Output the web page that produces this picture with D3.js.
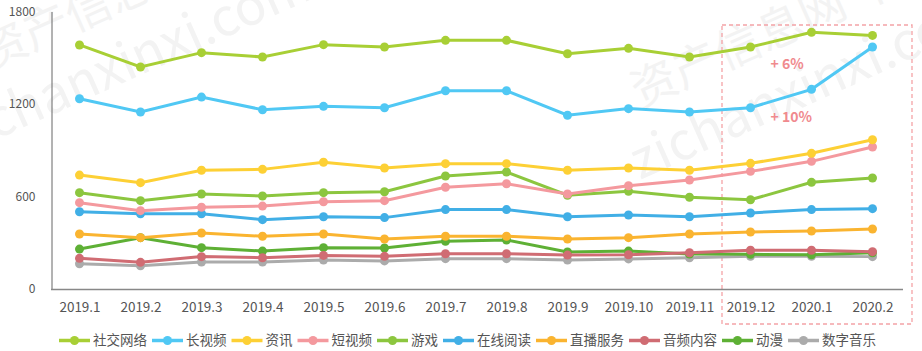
<!DOCTYPE html>
<html>
<head>
<meta charset="utf-8">
<script src="https://cdn.jsdelivr.net/npm/d3@7"></script>
<style>
  body { margin: 0; background: #fff; }
  svg { display: block; }
</style>
</head>
<body>
<div id="chart"></div>
<script>
// months on the x axis
var months = ["2019.1","2019.2","2019.3","2019.4","2019.5","2019.6","2019.7",
              "2019.8","2019.9","2019.10","2019.11","2019.12","2020.1","2020.2"];
var yTicks = [0, 600, 1200, 1800];

// series values
var sheJiao   = [1583,1440,1533,1505,1585,1570,1613,1613,1526,1561,1505,1570,1665,1645];
var changShiPin = [1234,1148,1245,1163,1185,1176,1286,1286,1127,1170,1148,1176,1295,1570];
var ziXun     = [739,690,770,776,822,785,813,813,770,785,770,815,880,968];
var duanShiPin = [560,508,530,538,566,573,660,683,616,670,707,763,828,921];
var youXi     = [625,573,616,603,625,631,733,759,608,634,595,579,692,720];
var yueDu     = [501,488,488,450,469,463,515,515,469,480,469,493,515,521];
var zhiBo     = [357,333,363,342,357,324,342,342,324,333,357,370,376,389];
var yinPin    = [199,173,210,203,218,212,229,229,220,222,235,251,251,242];
var dongMan   = [259,333,268,246,268,266,309,318,240,246,227,225,222,235];
var shuZiYinYue = [164,151,175,175,188,182,197,197,188,195,203,212,212,210];

var seriesNames = ["社交网络","长视频","资讯","短视频","游戏","在线阅读","直播服务","音频内容","动漫","数字音乐"];
var seriesValues = [sheJiao, changShiPin, ziXun, duanShiPin, youXi, yueDu, zhiBo, yinPin, dongMan, shuZiYinYue];
var colors = ["#a8cf35","#50c8f4","#fdd035","#f4999e","#8cc63f","#41afe6","#fab430","#d06c73","#5eb035","#ababab"];

var width = 922, height = 351;
var font = "'Noto Sans CJK SC', 'Microsoft YaHei', sans-serif";

var svg = d3.select("#chart").append("svg")
    .attr("width", width)
    .attr("height", height)
    .style("font-family", font);

// faint watermark
var wm = svg.append("g").style("fill", "#f3f3f3").style("font-size", "46px");
wm.append("text").attr("transform", "translate(-10,70) rotate(-24)").text("资产信息网 千");
wm.append("text").attr("transform", "translate(-5,140) rotate(-24)").style("font-size", "52px").text("chanxinxi.com");
wm.append("text").attr("transform", "translate(640,108) rotate(-24)").text("资产信息网 千");
wm.append("text").attr("transform", "translate(640,180) rotate(-24)").style("font-size", "52px").text("zichanxinxi.com");

var xScale = d3.scalePoint()
    .domain(months)
    .range([49, 903])
    .padding(0.5);

var yScale = d3.scaleLinear()
    .domain([0, 1800])
    .range([289, 11.5]);

// highlight box
svg.append("rect")
    .attr("x", 722).attr("y", 25)
    .attr("width", 190).attr("height", 299)
    .style("fill", "none")
    .style("stroke", "#f4a3a6")
    .style("stroke-width", 1.3)
    .style("stroke-dasharray", "4,3");

// axes
var yAxis = d3.axisLeft(yScale).tickValues(yTicks).tickFormat(d3.format("d")).tickSize(0).tickPadding(16);
var gy = svg.append("g").attr("class", "y axis")
    .attr("transform", "translate(51.5,0)")
    .call(yAxis);
gy.select(".domain").style("stroke", "#666");
gy.selectAll("text").style("fill", "#555").style("font-size", "12px").style("font-family", font);

var xAxis = d3.axisBottom(xScale).tickSize(0).tickPadding(13);
var gx = svg.append("g").attr("class", "x axis")
    .attr("transform", "translate(0," + yScale(0) + ")")
    .call(xAxis);
gx.select(".domain").remove();
gx.append("line")
    .attr("x1", 51).attr("x2", 903)
    .attr("y1", 0.5).attr("y2", 0.5)
    .style("stroke", "#888").style("stroke-width", 1.5);
gx.selectAll("text").style("fill", "#555").style("font-size", "13.5px").style("font-family", font);

var line = d3.line()
    .x(function(d, i) { return xScale(months[i]); })
    .y(function(d) { return yScale(d); });

// draw from bottom series up so the top ones sit on top
for (var s = seriesValues.length - 1; s >= 0; s--) {
  var g = svg.append("g").attr("class", "series");
  g.append("path")
    .datum(seriesValues[s])
    .attr("d", line)
    .style("fill", "none")
    .style("stroke", colors[s])
    .style("stroke-width", 3);
  g.selectAll("circle")
    .data(seriesValues[s])
   .enter()
    .append("circle")
    .attr("cx", function(d, i) { return xScale(months[i]); })
    .attr("cy", function(d) { return yScale(d); })
    .attr("r", 4.5)
    .style("fill", colors[s]);
}

// growth annotations
var notes = [{text: "+ 6%", month: "2019.12", value: 1460},
             {text: "+ 10%", month: "2019.12", value: 1117}];
svg.selectAll(".note")
  .data(notes)
 .enter()
  .append("text")
  .attr("class", "note")
  .attr("x", function(d) { return xScale(d.month) + 20; })
  .attr("y", function(d) { return yScale(d.value); })
  .attr("dy", "0.35em")
  .text(function(d) { return d.text; })
  .style("fill", "#f08a8e")
  .style("font-weight", "bold")
  .style("font-size", "14px");

// legend
var legend = svg.append("g").attr("class", "legend");
var lx = 59, ly = 340.5;
seriesNames.forEach(function(name, i) {
  var item = legend.append("g").attr("transform", "translate(" + lx + "," + ly + ")");
  item.append("line")
    .attr("x1", 0).attr("x2", 31).attr("y1", 0).attr("y2", 0)
    .style("stroke", colors[i]).style("stroke-width", 3.5);
  item.append("circle").attr("cx", 15.5).attr("cy", 0).attr("r", 4.5).style("fill", colors[i]);
  var t = item.append("text")
    .attr("x", 34).attr("y", 0).attr("dy", "0.35em")
    .text(name)
    .style("fill", "#555")
    .style("font-size", "13.5px");
  lx += 34 + t.node().getComputedTextLength() + 5;
});
</script>
</body>
</html>
